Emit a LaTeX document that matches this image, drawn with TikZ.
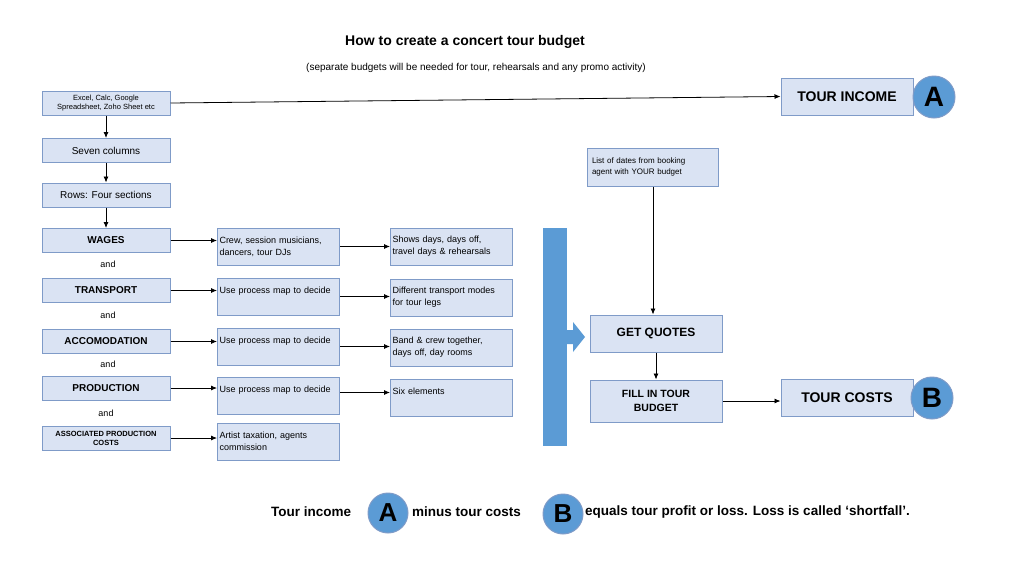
\documentclass[tikz,border=0pt]{standalone}
\usepackage{fontspec}
\setmainfont{Liberation Sans}
\usetikzlibrary{arrows.meta}
\definecolor{boxfill}{HTML}{DAE3F3}
\definecolor{boxline}{HTML}{7F9BC8}
\definecolor{bigblue}{HTML}{5B9BD5}
\begin{document}
\begin{tikzpicture}[x=1pt,y=-1pt,
  box/.style={draw=boxline,fill=boxfill,line width=1pt,inner sep=2pt,align=center},
  lbox/.style={box,minimum width=128pt,minimum height=24pt,font=\fontsize{10}{11}\selectfont\bfseries},
  mbox/.style={box,text width=118pt,minimum height=37pt,align=left,font=\fontsize{9}{12}\selectfont},
  circ/.style={circle,draw=boxline,fill=bigblue,line width=1pt,minimum size=42pt,inner sep=0pt,font=\fontsize{28}{28}\selectfont\bfseries},
  arr/.style={-{Latex[length=6pt,width=5pt]},line width=0.8pt},
  andl/.style={font=\fontsize{9}{10}\selectfont}]
\useasboundingbox (0,0) rectangle (1024,576);
\node[font=\fontsize{14}{16}\selectfont\bfseries] (title) at (465,42) {How to create a concert tour budget};
\node[font=\fontsize{10}{12}\selectfont] (sub) at (476,68) {(separate budgets will be needed for tour, rehearsals and any promo activity)};
% left column
\node[lbox,minimum height=24pt,font=\fontsize{7.5}{9}\selectfont] (excel) at (106,103) {Excel, Calc, Google\\Spreadsheet, Zoho Sheet etc};
\node[lbox,font=\fontsize{10}{11}\selectfont] (seven) at (106,150.5) {Seven columns};
\node[lbox,font=\fontsize{10}{11}\selectfont] (rows) at (106,195) {Rows: Four sections};
\node[lbox] (wages) at (106,240.5) {WAGES};
\node[andl] (and1) at (108,264) {and};
\node[lbox] (transport) at (106,290.5) {TRANSPORT};
\node[andl] (and2) at (108,315) {and};
\node[lbox] (accom) at (106,341.5) {ACCOMODATION};
\node[andl] (and3) at (108,364) {and};
\node[lbox] (prod) at (106,388) {PRODUCTION};
\node[andl] (and4) at (106,413) {and};
\node[lbox,font=\fontsize{7.5}{9}\selectfont\bfseries] (assoc) at (106,438) {ASSOCIATED PRODUCTION\\COSTS};
% middle column
\node[mbox] (m1) at (278.5,246.5) {Crew, session musicians,\\dancers, tour DJs};
\node[mbox] (m2) at (278.5,296.5) {Use process map to decide\\\mbox{}};
\node[mbox] (m3) at (278.5,346.5) {Use process map to decide\\\mbox{}};
\node[mbox] (m4) at (278.5,395.5) {Use process map to decide\\\mbox{}};
\node[mbox] (m5) at (278.5,441.5) {Artist taxation, agents\\commission};
% right column
\node[mbox] (r1) at (451.5,246.5) {Shows days, days off,\\travel days \& rehearsals};
\node[mbox] (r2) at (451.5,297.5) {Different transport modes\\for tour legs};
\node[mbox] (r3) at (451.5,347.5) {Band \& crew together,\\days off, day rooms};
\node[mbox] (r4) at (451.5,397.5) {Six elements\\\mbox{}};
% arrows left
\draw[arr] (excel) -- (seven);
\draw[arr] (seven) -- (rows);
\draw[arr] (rows) -- (wages);
\foreach \a/\b in {wages/m1,transport/m2,accom/m3,prod/m4,assoc/m5}
  \draw[arr] (\a.east) -- (\b.west |- \a.east);
\foreach \a/\b in {m1/r1,m2/r2,m3/r3}
  \draw[arr] (\a.east) -- (\b.west |- \a.east);
\draw[arr] (m4.east) ++(0,-3) coordinate (m4e) -- (r4.west |- m4e);
% blue bar + arrow
\fill[bigblue] (543,228) rectangle (567,446);
\fill[bigblue] (567,330) -- (573,330) -- (573,322) -- (585,337) -- (573,352) -- (573,344) -- (567,344) -- cycle;
% right part
\node[box,minimum width=131pt,minimum height=38pt,text width=121pt,align=left,font=\fontsize{8}{11}\selectfont] (list) at (652.5,167) {List of dates from booking\\agent with YOUR budget};
\node[box,minimum width=132pt,minimum height=37pt,font=\fontsize{12}{14}\selectfont\bfseries] (quotes) at (656,333.5) {GET QUOTES};
\node[box,minimum width=132pt,minimum height=42pt,font=\fontsize{10.5}{14}\selectfont\bfseries] (fill) at (656,401) {FILL IN TOUR\\BUDGET};
\node[box,minimum width=132pt,minimum height=37pt,font=\fontsize{14}{16}\selectfont\bfseries] (income) at (847,96.5) {TOUR INCOME};
\node[circ] (ca) at (934,97) {A};
\node[box,minimum width=132pt,minimum height=37pt,font=\fontsize{14}{16}\selectfont\bfseries] (costs) at (847,397.5) {TOUR COSTS};
\node[circ] (cb) at (932,398) {B};
\draw[arr] (list.south -| 653,0) -- (quotes.north -| 653,0);
\draw[arr] (quotes) -- (fill);
\draw[arr] (fill.east) ++(0,0) -- (costs.west |- fill.east);
\draw[arr] (excel.east) -- (income.west);
% bottom sentence
\node[font=\fontsize{13.5}{16}\selectfont\bfseries,anchor=west,inner sep=0pt] (t1) at (271,512) {Tour income};
\node[circ,minimum size=40pt,font=\fontsize{26}{26}\selectfont\bfseries] (ba) at (388,513) {A};
\node[font=\fontsize{13.5}{16}\selectfont\bfseries,anchor=west,inner sep=0pt] (t2) at (412,512) {minus tour costs};
\node[circ,minimum size=40pt,font=\fontsize{26}{26}\selectfont\bfseries] (bb) at (563,514) {B};
\node[font=\fontsize{13.5}{16}\selectfont\bfseries,anchor=west,inner sep=0pt] (t3) at (585,512) {equals tour profit or loss. Loss is called ‘shortfall’.};
\end{tikzpicture}
\end{document}
